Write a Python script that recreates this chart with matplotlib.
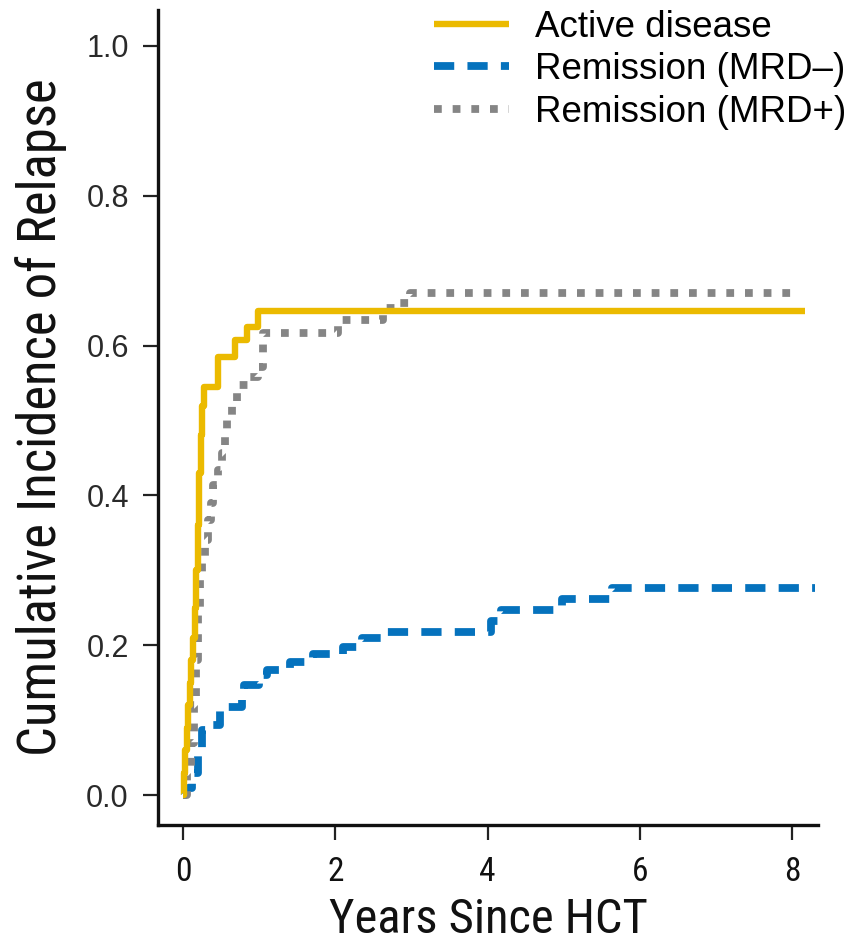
import matplotlib
matplotlib.use("Agg")
import matplotlib.pyplot as plt

# ---- data ----
active_t = [0, 0.01, 0.03, 0.05, 0.07, 0.09, 0.11, 0.13, 0.15, 0.17, 0.19, 0.21, 0.23, 0.25, 0.27, 0.46, 0.68, 0.84, 0.99, 8.17]
active_v = [0.0, 0.03, 0.06, 0.09, 0.12, 0.15, 0.18, 0.21, 0.25, 0.30, 0.36, 0.43, 0.48, 0.52, 0.545, 0.585, 0.607, 0.625, 0.646, 0.646]

mrdneg_t = [0, 0.03, 0.12, 0.2, 0.25, 0.33, 0.49, 0.55, 0.77, 0.8, 1.0, 1.1, 1.4, 1.7, 2.1, 2.35, 2.6, 4.05, 4.17, 4.98, 5.64, 8.3]
mrdneg_v = [0, 0.01, 0.03, 0.06, 0.087, 0.093, 0.113, 0.118, 0.136, 0.147, 0.16, 0.167, 0.178, 0.188, 0.197, 0.21, 0.218, 0.232, 0.247, 0.262, 0.276, 0.276]

mrdpos_t = [0, 0.05, 0.1, 0.14, 0.17, 0.2, 0.22, 0.25, 0.29, 0.33, 0.36, 0.39, 0.46, 0.51, 0.55, 0.58, 0.64, 0.71, 0.85, 0.99, 1.05, 2.04, 2.62, 2.8, 2.98, 8.08]
mrdpos_v = [0, 0.03, 0.07, 0.12, 0.18, 0.24, 0.29, 0.318, 0.34, 0.367, 0.39, 0.414, 0.434, 0.457, 0.48, 0.505, 0.525, 0.547, 0.558, 0.571, 0.617, 0.634, 0.65, 0.657, 0.670, 0.670]

series_labels = ["Active disease", "Remission (MRD\u2013)", "Remission (MRD+)"]
x_ticks = [0, 2, 4, 6, 8]
y_ticks = [0.0, 0.2, 0.4, 0.6, 0.8, 1.0]

COND = ["Roboto Condensed", "DejaVu Sans"]
SANS = ["Liberation Sans", "DejaVu Sans"]

fig = plt.figure(figsize=(8.66, 9.5), dpi=100)
ax = fig.add_axes([158/866, 1 - 825/950, (818-158)/866, (825-10)/950])

ax.step(active_t, active_v, where="post", color="#EBBA00", lw=4.6,
        solid_capstyle="butt", label=series_labels[0], zorder=3)
ax.step(mrdneg_t, mrdneg_v, where="post", color="#0572BD", lw=5.6,
        linestyle=(0, (2.6, 1.7)), dash_capstyle="butt", label=series_labels[1], zorder=2)
ax.step(mrdpos_t, mrdpos_v, where="post", color="#858585", lw=5.6,
        linestyle=(0, (1.0, 1.4)), dash_capstyle="butt", label=series_labels[2], zorder=2)

ax.set_xlim(-0.33, 8.34)
ax.set_ylim(-0.040, 1.048)
ax.spines["top"].set_visible(False)
ax.spines["right"].set_visible(False)
for s in ("left", "bottom"):
    ax.spines[s].set_linewidth(2.4)
    ax.spines[s].set_color("#111111")

ax.set_xticks(x_ticks)
ax.set_xticklabels([str(v) for v in x_ticks], fontfamily=COND, fontsize=24, color="#111111")
ax.set_yticks(y_ticks)
ax.set_yticklabels([f"{v:.1f}" for v in y_ticks], fontfamily=SANS, fontsize=22, color="#2a2a2a")
ax.tick_params(axis="both", direction="out", length=11, width=1.6, color="#222222")
ax.tick_params(axis="x", pad=11)
ax.tick_params(axis="y", pad=10)

ax.set_xlabel("Years Since HCT", fontfamily=COND, fontsize=35, labelpad=7, color="#111111")
ax.set_ylabel("Cumulative Incidence of Relapse", fontfamily=COND, fontsize=38, labelpad=14, color="#111111")

leg = fig.legend(loc="upper left", bbox_to_anchor=(434/866, 1 - 10/950),
                 frameon=False, prop={"family": SANS, "size": 26.5},
                 handlelength=2.05, handletextpad=0.7, labelspacing=0.2,
                 borderpad=0, borderaxespad=0)

fig.savefig("out.png", dpi=100)
